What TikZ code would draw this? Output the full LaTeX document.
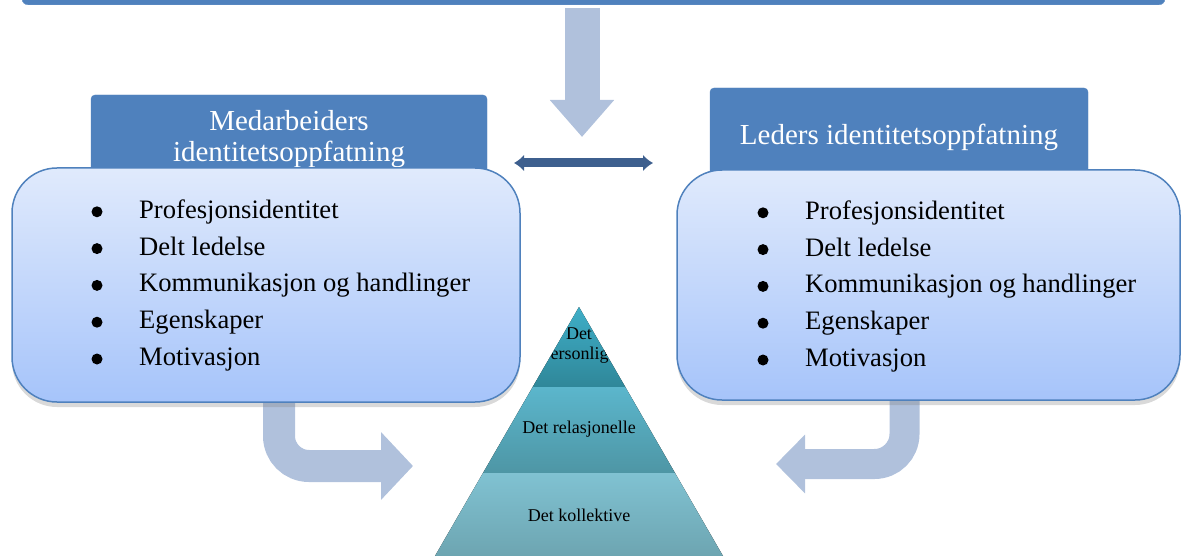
\documentclass[tikz,border=0pt]{standalone}
\usepackage{fontspec}
\setmainfont{Liberation Serif}
\usetikzlibrary{arrows.meta,shadows,positioning,calc}
\definecolor{head-blue}{HTML}{4F81BD}
\definecolor{box-top}{HTML}{E0EAFC}
\definecolor{box-bottom}{HTML}{A6C4FA}
\definecolor{flow-blue}{HTML}{B0C1DC}
\definecolor{link-blue}{HTML}{3D5F8E}
\definecolor{pyr-top-a}{HTML}{3FAEC7}
\definecolor{pyr-top-b}{HTML}{2F8799}
\definecolor{pyr-mid-a}{HTML}{5BB6CC}
\definecolor{pyr-mid-b}{HTML}{4E96A5}
\definecolor{pyr-low-a}{HTML}{80C2D2}
\definecolor{pyr-low-b}{HTML}{6DA5B1}
\tikzset{
  headbox/.style={fill=head-blue, draw=head-blue, rounded corners=4pt, text=white,
    font=\fontsize{29}{31}\selectfont, align=center},
  listbox/.style={rounded corners=45pt, top color=box-top, bottom color=box-bottom,
    draw=head-blue, line width=1.5pt,
    drop shadow={opacity=0.3, shadow xshift=0pt, shadow yshift=-5pt}},
  item/.style={font=\fontsize{26.6}{26.6}\selectfont, text height=18pt, text depth=6pt, inner sep=0pt},
  dot/.style={circle, fill=black, minimum size=11pt, inner sep=0pt},
  flow/.style={draw=flow-blue, line width=32pt, rounded corners=30pt},
  layer/.style={font=\fontsize{18}{20}\selectfont, text=black, align=center, inner sep=0pt},
}

\begin{document}
\begin{tikzpicture}[x=1pt, y=-1pt]
    \useasboundingbox (0,0) rectangle (1181,556);

    % bar on top and the arrow coming down from it
    \node[fill=head-blue, draw=head-blue!85!white, rounded corners=6pt, minimum width=1143pt,
          minimum height=40pt, anchor=south] (topbar) at (593.5,5) {};
    \coordinate (dtop) at (582,8) ;
    \coordinate (dtip) at (582,137) ;
    \draw[draw=flow-blue, line width=35pt, -{Triangle[width=62pt,length=37pt]}] (dtop) -- (dtip);

    % link between the two sides
    \coordinate (lnkl) at (514,163) ;
    \coordinate (lnkr) at (653,163) ;
    \draw[link-blue, line width=9pt, {Latex[width=17pt,length=10pt]}-{Latex[width=17pt,length=10pt]}] (lnkl) -- (lnkr);

    % headers
    \node[headbox, minimum width=396pt, minimum height=80pt] (lhead) at (289,135) {};
    \node[headbox, fill=none, draw=none] (ltitle) at (289,139) {Medarbeiders\\identitetsoppfatning};
    \node[headbox, minimum width=378pt, minimum height=87pt] (rhead) at (899,131.5) {};
    \node[headbox, fill=none, draw=none] (rtitle) at (899,137) {Leders identitetsoppfatning};

    % bent arrows down to the pyramid
    \coordinate (lfrom) at (279,390) ;
    \coordinate (lto) at (413,466) ;
    \draw[flow, -{Triangle[width=66pt,length=32pt]}] (lfrom) |- (lto);
    \coordinate (rfrom) at (904.5,390) ;
    \coordinate (rto) at (776,464) ;
    \draw[flow, line width=30pt, -{Triangle[width=57pt,length=29pt]}] (rfrom) |- (rto);

    % the two lists
    \node[listbox, minimum width=508pt, minimum height=234pt] (lbox) at (266,285) {};
    \node[listbox, minimum width=503pt, minimum height=230pt] (rbox) at (928.5,285) {};

    \foreach \txt [count=\i] in {Profesjonsidentitet, Delt ledelse, Kommunikasjon og handlinger, Egenskaper, Motivasjon} {
        \node[dot] (lb\i) at (97, 175+36.8*\i) {};
        \node[item, anchor=west] (li\i) at (139, 175.5+36.8*\i) {\txt};
        \node[dot] (rb\i) at (763, 176+36.8*\i) {};
        \node[item, anchor=west] (ri\i) at (805, 176.5+36.8*\i) {\txt};
    }

    % pyramid
    \coordinate (apex) at (579,307) ;
    \coordinate (p1l) at (532.7,387) ;
    \coordinate (p1r) at (625.3,387) ;
    \coordinate (p2l) at (483,473) ;
    \coordinate (p2r) at (675,473) ;
    \coordinate (bl) at (435,556) ;
    \coordinate (br) at (723,556) ;
    \fill[top color=pyr-top-a, bottom color=pyr-top-b] (apex) -- (p1r) -- (p1l) -- cycle;
    \fill[top color=pyr-mid-a, bottom color=pyr-mid-b] (p1l) -- (p1r) -- (p2r) -- (p2l) -- cycle;
    \fill[top color=pyr-low-a, bottom color=pyr-low-b] (p2l) -- (p2r) -- (br) -- (bl) -- cycle;

    \begin{scope}
        \clip (apex) -- (p1r) -- (p1l) -- cycle;
        \node[layer] (pers) at (579,346) {Det\\personlige};
    \end{scope}
    \node[layer] (rel) at (579,429) {Det relasjonelle};
    \node[layer] (koll) at (579,515) {Det kollektive};
\end{tikzpicture}
\end{document}
